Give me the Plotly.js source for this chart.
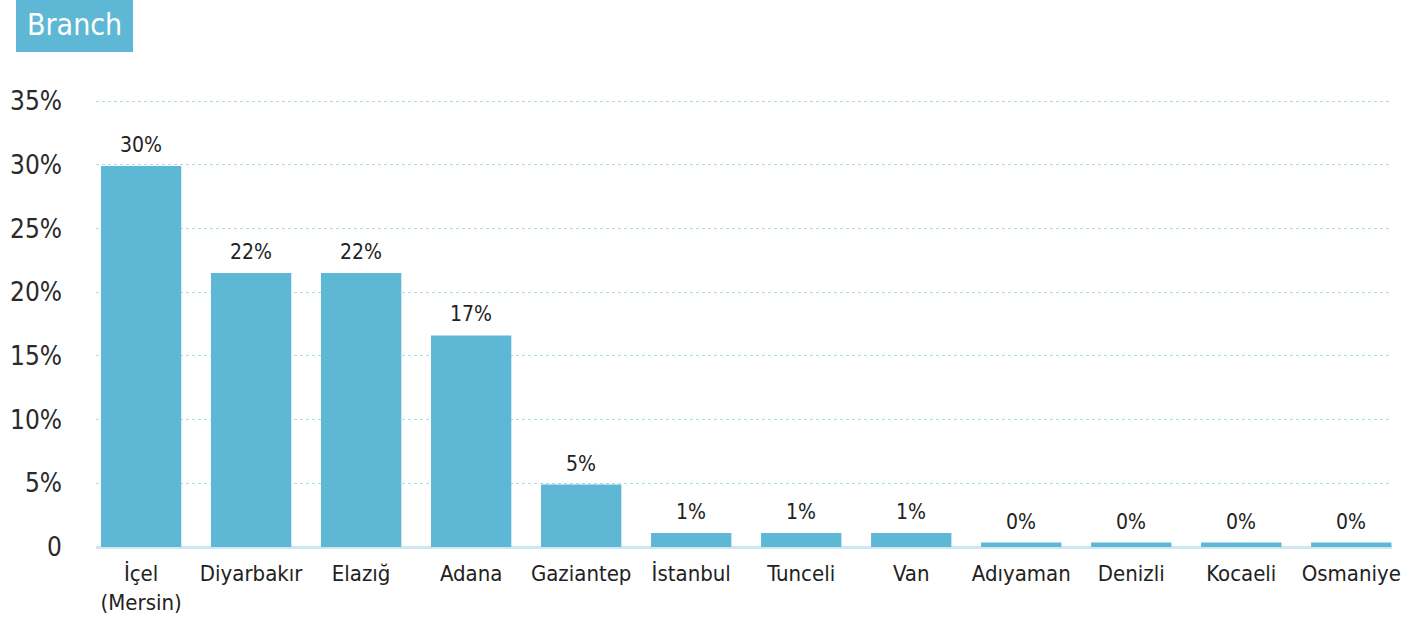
<!DOCTYPE html>
<html>
<head>
<meta charset="utf-8">
<script src="https://cdn.plot.ly/plotly-3.0.1.min.js"></script>
<style>
  html, body { margin: 0; padding: 0; background: #fff; }
  #chart { width: 1405px; height: 624px; }
</style>
</head>
<body>
<div id="chart"></div>
<script>
const categories = ["İçel<br>(Mersin)", "Diyarbakır", "Elazığ", "Adana", "Gaziantep", "İstanbul", "Tunceli", "Van", "Adıyaman", "Denizli", "Kocaeli", "Osmaniye"];
const values = [29.9, 21.5, 21.5, 16.6, 4.9, 1.1, 1.1, 1.1, 0.35, 0.35, 0.35, 0.35];
const valueLabels = ["30%", "22%", "22%", "17%", "5%", "1%", "1%", "1%", "0%", "0%", "0%", "0%"];
const tickValues = [0, 5, 10, 15, 20, 25, 30, 35];
const tickLabels = ["0", "5%", "10%", "15%", "20%", "25%", "30%", "35%"];
const chartTitle = "Branch";

const FONT = '"DejaVu Sans Condensed", "Liberation Sans Narrow", "Roboto", sans-serif';
const BAR = '#5eb8d5';

const W = 1405, H = 624;
const M = { l: 96, r: 13, t: 100, b: 77 };
const PW = W - M.l - M.r, PH = H - M.t - M.b;
const px = (p) => (p - M.l) / PW;          // page x pixel -> paper x
const py = (p) => (H - M.b - p) / PH;      // page y pixel -> paper y

const trace = {
  type: 'bar',
  x: categories,
  y: values,
  marker: { color: BAR },
  hoverinfo: 'skip'
};

const valueAnnotations = categories.map((c, i) => ({
  x: c, y: values[i],
  xref: 'x', yref: 'y',
  text: valueLabels[i],
  showarrow: false,
  yanchor: 'bottom',
  yshift: 7,
  font: { family: FONT, size: 21, color: '#222' }
}));

const layout = {
  width: W,
  height: H,
  margin: M,
  paper_bgcolor: '#fff',
  plot_bgcolor: '#fff',
  showlegend: false,
  bargap: 0.27,
  font: { family: FONT, color: '#222' },
  xaxis: {
    type: 'category',
    range: [-0.41, 11.37],
    showgrid: false,
    zeroline: false,
    showline: false,
    ticks: '',
    tickfont: { family: FONT, size: 22, color: '#222' },
    ticklabelstandoff: 11,
    fixedrange: true
  },
  yaxis: {
    range: [0, 35.08],
    tickvals: tickValues,
    ticktext: tickLabels,
    showgrid: true,
    gridcolor: '#a9dbea',
    griddash: 'dot',
    gridwidth: 1,
    zeroline: true,
    zerolinecolor: '#cde8f2',
    zerolinewidth: 3,
    showline: false,
    ticks: '',
    ticklabelstandoff: 33,
    tickfont: { family: FONT, size: 26, color: '#2a2a2a' },
    fixedrange: true
  },
  shapes: [{
    type: 'rect',
    xref: 'paper', yref: 'paper',
    x0: px(16), x1: px(133),
    y0: py(52), y1: py(0),
    fillcolor: BAR,
    line: { width: 0 },
    layer: 'above'
  }],
  annotations: [{
    text: chartTitle,
    xref: 'paper', yref: 'paper',
    x: px(74.5), y: py(25),
    xanchor: 'center', yanchor: 'middle',
    showarrow: false,
    font: { family: FONT, size: 30, color: '#fff' }
  }].concat(valueAnnotations)
};

Plotly.newPlot('chart', [trace], layout, { displayModeBar: false, staticPlot: true });
</script>
</body>
</html>
